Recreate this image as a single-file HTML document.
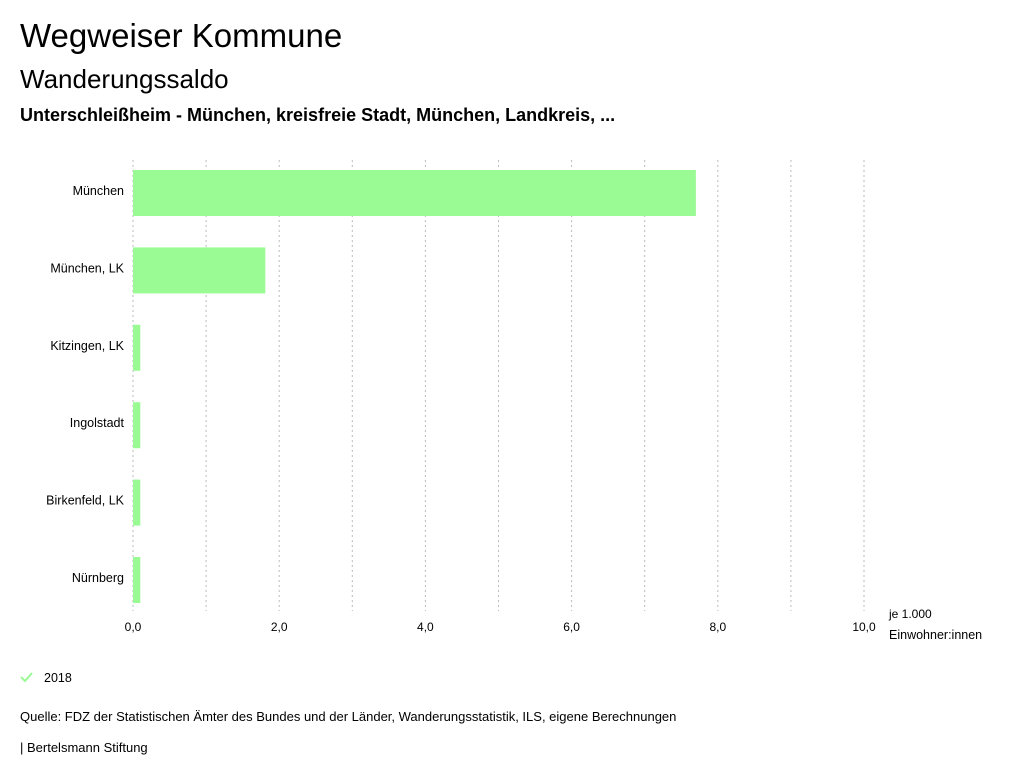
<!DOCTYPE html>
<html><head><meta charset="utf-8"><style>
body{margin:0;width:1024px;height:780px;background:#fff;font-family:"Liberation Sans",sans-serif;color:#000;position:relative;overflow:hidden}
.t{position:absolute;left:20px;white-space:nowrap}
</style></head><body>
<div class="t" style="top:17px;font-size:33px">Wegweiser Kommune</div>
<div class="t" style="top:64px;font-size:26px">Wanderungssaldo</div>
<div class="t" style="top:105px;font-size:18px;font-weight:bold">Unterschleißheim - München, kreisfreie Stadt, München, Landkreis, ...</div>
<svg id="chart" width="1024" height="780" style="position:absolute;left:0;top:0"></svg>
<div class="t" style="top:709px;font-size:13px">Quelle: FDZ der Statistischen Ämter des Bundes und der Länder, Wanderungsstatistik, ILS, eigene Berechnungen</div>
<div class="t" style="top:740px;font-size:13px">| Bertelsmann Stiftung</div>
<script>
const categories=["München","München, LK","Kitzingen, LK","Ingolstadt","Birkenfeld, LK","Nürnberg"];
const values2018=[7.7,1.81,0.1,0.1,0.1,0.1];
const tickValues=[0,2,4,6,8,10];
const tickLabels=["0,0","2,0","4,0","6,0","8,0","10,0"];
const NS="http://www.w3.org/2000/svg";
const svg=document.getElementById('chart');
const x0=133,x1=864,yTop=160,yBot=611;
const xs=v=>x0+(v-0)/(10-0)*(x1-x0);
const yc=i=>193+i*77.4;
function mk(t,a){const e=document.createElementNS(NS,t);for(const k in a)e.setAttribute(k,a[k]);svg.appendChild(e);return e;}
for(let v=0;v<=10;v++){
 const g=mk('line',{x1:xs(v),x2:xs(v),y1:yTop,y2:yBot,stroke:'#bbb','stroke-dasharray':'2,3','stroke-width':1});
 
 
}
tickValues.forEach((v,i)=>{
 const t=mk('text',{x:xs(v),y:631,'text-anchor':'middle','font-size':12,'font-family':'Liberation Sans, sans-serif'});
 t.textContent=tickLabels[i];
 
 
});
categories.forEach((c,i)=>{
 const r=mk('rect',{x:xs(0),y:yc(i)-23,width:xs(values2018[i])-xs(0),height:46,fill:'#9afa94'});
 
 
 const t=mk('text',{x:124,y:yc(i)+2,'text-anchor':'end','font-size':12.5,'font-family':'Liberation Sans, sans-serif'});
 t.textContent=c;
 
 
});
const u1=mk('text',{x:889,y:618,'font-size':12,'font-family':'Liberation Sans, sans-serif'});u1.textContent='je 1.000';


const u2=mk('text',{x:889,y:639,'font-size':12.5,'font-family':'Liberation Sans, sans-serif'});u2.textContent='Einwohner:innen';


const chk=mk('polyline',{points:'21,677 25,681 32,673',fill:'none',stroke:'#9afa94','stroke-width':2});


const lt=mk('text',{x:44,y:682,'font-size':12.5,'font-family':'Liberation Sans, sans-serif'});lt.textContent='2018';


</script>
</body></html>
